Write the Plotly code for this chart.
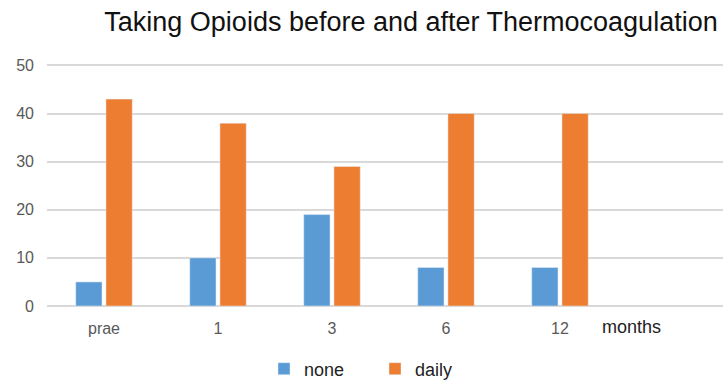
import plotly.graph_objects as go

categories = ["praе", "1", "3", "6", "12"]
none_vals = [5, 10, 19, 8, 8]
daily_vals = [43, 38, 29, 40, 40]
y_ticks = [0, 10, 20, 30, 40, 50]

FONT = "Liberation Sans, Arial, sans-serif"
xpos = list(range(len(categories)))

fig = go.Figure()
fig.add_trace(go.Bar(x=xpos, y=none_vals, name="none", marker_color="#5B9BD5"))
fig.add_trace(go.Bar(x=xpos, y=daily_vals, name="daily", marker_color="#ED7D31"))

fig.update_layout(
    width=723, height=380,
    margin=dict(l=47, r=0, t=64, b=74),
    paper_bgcolor="white", plot_bgcolor="white",
    barmode="group", bargap=0.47, bargroupgap=0.13,
    title=dict(text="Taking Opioids before and after Thermocoagulation",
               x=411/723, xanchor="center", y=1 - 22/380, yanchor="middle",
               font=dict(family=FONT, size=27, color="#111111")),
    font=dict(family=FONT),
    showlegend=True,
    legend=dict(orientation="h", x=264/723, xanchor="left", xref="container",
                y=(380 - 369)/380, yanchor="middle", yref="container",
                font=dict(family=FONT, size=18, color="#222222"),
                itemwidth=30, entrywidth=66, entrywidthmode="pixels",
                traceorder="normal"),
    xaxis=dict(tickmode="array", tickvals=xpos, ticktext=categories,
               range=[-0.5, 5.43], showgrid=False, zeroline=False,
               showline=False, ticks="", ticklabelstandoff=11,
               tickfont=dict(family=FONT, size=16, color="#595959")),
    yaxis=dict(tickmode="array", tickvals=y_ticks, range=[0, 50.3],
               gridcolor="#D9D9D9", gridwidth=1.5, zeroline=True,
               zerolinecolor="#D9D9D9", zerolinewidth=1.5, showline=False,
               ticks="", ticklabelstandoff=12,
               tickfont=dict(family=FONT, size=16, color="#595959")),
    annotations=[dict(text="months", x=4.63, xref="x", y=-0.087, yref="paper",
                      yanchor="middle", xanchor="center", showarrow=False,
                      font=dict(family=FONT, size=18, color="#222222"))],
)

fig.write_html("out.html")
